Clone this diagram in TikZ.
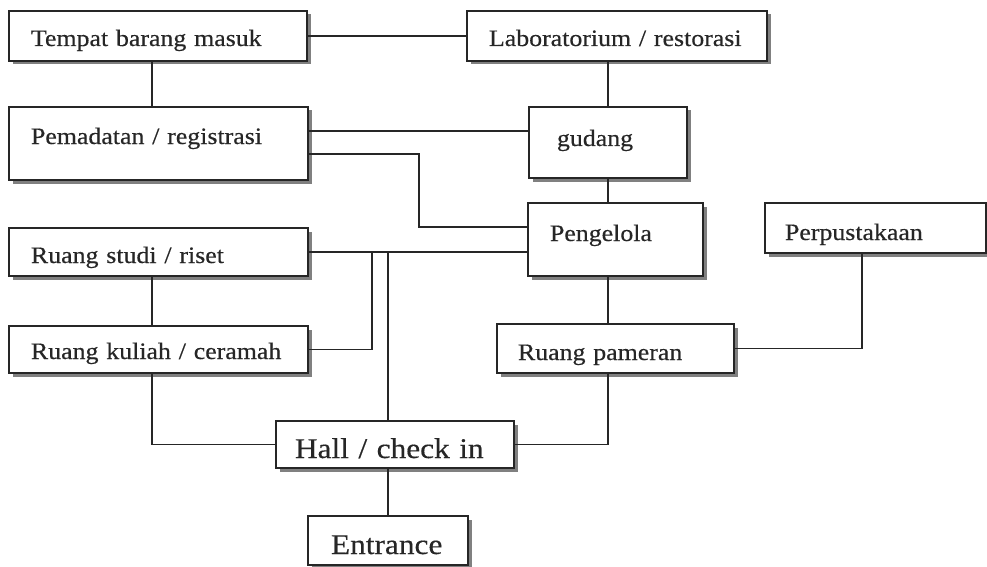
\documentclass[tikz,border=0pt]{standalone}
\usepackage{fontspec}
\setmainfont{Liberation Serif}[FakeStretch=1.1, FakeBold=0.4]
\usetikzlibrary{shadows}

\newcommand{\roomfont}{\fontsize{23.5}{26}\selectfont}
\newcommand{\hallfont}{\fontsize{28.5}{32}\selectfont}

\tikzset{
  room/.style n args={3}{draw=black!85, line width=2pt, fill=white,
    anchor=north west, outer sep=0pt, inner xsep=22pt, inner ysep=0pt,
    align=left, font=\roomfont, text=black!85,
    text width=#1, text height=#2, text depth=#3,
    drop shadow={shadow xshift=3.5pt, shadow yshift=-3.5pt,
      fill=black!50, opacity=1}},
  link/.style={draw=black!85, line width=1.6pt}
}

\begin{document}
\begin{tikzpicture}[x=1pt, y=-1pt]
  \useasboundingbox (0,0) rectangle (987,567);

  % rooms
  \node[room={254pt}{35pt}{15pt}] (tempat)    at (9,11)    {Tempat barang masuk};
  \node[room={256pt}{35pt}{15pt}] (lab)       at (467,11)  {Laboratorium / restorasi};
  \node[room={255pt}{37pt}{36pt}] (pemadatan) at (9,107)   {Pemadatan / registrasi};
  \node[room={102pt}{39pt}{32pt}, inner xsep=28pt]
                                  (gudang)    at (529,107) {gudang};
  \node[room={131pt}{38pt}{35pt}] (pengelola) at (528,203) {Pengelola};
  \node[room={181pt}{37pt}{13pt}, inner xsep=20pt]
                                  (perpus)    at (765,203) {Perpustakaan};
  \node[room={255pt}{35pt}{13pt}] (studi)     at (9,228)   {Ruang studi / riset};
  \node[room={255pt}{33pt}{14pt}] (kuliah)    at (9,326)   {Ruang kuliah / ceramah};
  \node[room={195pt}{36pt}{13pt}, inner xsep=21pt]
                                  (pameran)   at (497,324) {Ruang pameran};
  \node[room={200pt}{37pt}{10pt}, inner xsep=19pt, font=\hallfont]
                                  (hall)      at (276,421) {Hall / check in};
  \node[room={114pt}{38pt}{11pt}, inner xsep=23pt, font=\hallfont]
                                  (entrance)  at (308,516) {Entrance};

  % routing points
  \coordinate (colL) at (152,0);
  \coordinate (colR) at (608,0);
  \coordinate (colP) at (862,0);
  \coordinate (colK) at (372,0);
  \coordinate (rowA) at (0,131);
  \coordinate (rowB) at (0,154);
  \coordinate (bend) at (419,227);

  \path[link]
    (tempat) -- (lab)
    (tempat.south -| colL) -- (pemadatan.north -| colL)
    (lab.south -| colR) -- (gudang.north -| colR)
    (pemadatan.east |- rowA) -- (gudang.west |- rowA)
    (pemadatan.east |- rowB) -| (bend) -- (pengelola.west |- bend)
    (gudang.south -| colR) -- (pengelola.north -| colR)
    (studi.east) -- (pengelola.west |- studi.east)
    (studi.south -| colL) -- (kuliah.north -| colL)
    (kuliah.east) -| (studi.east -| colK)
    (hall.north -| entrance.north) -- (studi.east -| entrance.north)
    (kuliah.south -| colL) |- (hall.west)
    (pengelola.south -| colR) -- (pameran.north -| colR)
    (pameran.east) -| (perpus.south -| colP)
    (pameran.south -| colR) |- (hall.east)
    (hall.south -| entrance.north) -- (entrance)
    ;
\end{tikzpicture}
\end{document}
